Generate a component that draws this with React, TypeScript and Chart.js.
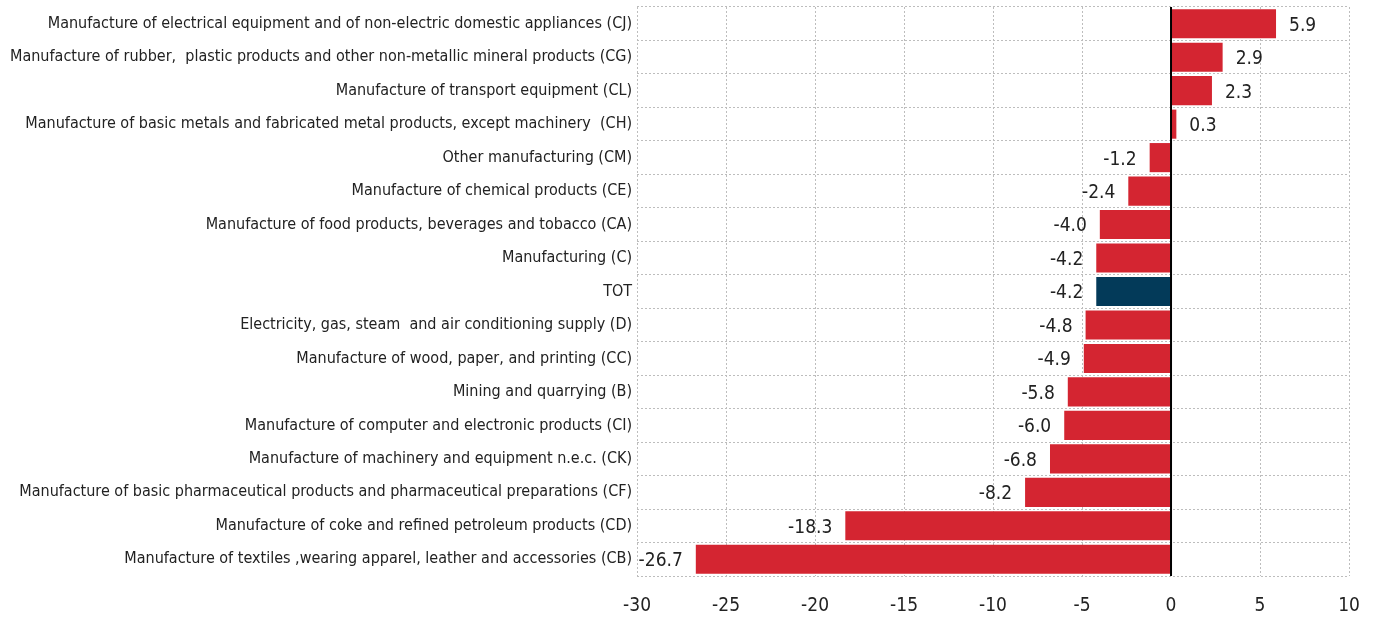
import React, { useEffect, useRef } from "react";
import { Chart, registerables } from "chart.js";

Chart.register(...registerables);

const categories = [
  "Manufacture of electrical equipment and of non-electric domestic appliances (CJ)",
  "Manufacture of rubber,  plastic products and other non-metallic mineral products (CG)",
  "Manufacture of transport equipment (CL)",
  "Manufacture of basic metals and fabricated metal products, except machinery  (CH)",
  "Other manufacturing (CM)",
  "Manufacture of chemical products (CE)",
  "Manufacture of food products, beverages and tobacco (CA)",
  "Manufacturing (C)",
  "TOT",
  "Electricity, gas, steam  and air conditioning supply (D)",
  "Manufacture of wood, paper, and printing (CC)",
  "Mining and quarrying (B)",
  "Manufacture of computer and electronic products (CI)",
  "Manufacture of machinery and equipment n.e.c. (CK)",
  "Manufacture of basic pharmaceutical products and pharmaceutical preparations (CF)",
  "Manufacture of coke and refined petroleum products (CD)",
  "Manufacture of textiles ,wearing apparel, leather and accessories (CB)",
];

const values = [5.9, 2.9, 2.3, 0.3, -1.2, -2.4, -4.0, -4.2, -4.2, -4.8, -4.9, -5.8, -6.0, -6.8, -8.2, -18.3, -26.7];

const highlightCategory = "TOT";
const xMin = -30;
const xMax = 10;
const xStep = 5;

const RED = "#D42531";
const BLUE = "#033A59";
const FONT = "'Liberation Sans Narrow', 'Arial Narrow', 'DejaVu Sans Condensed', sans-serif";

const labelPlugin = {
  id: "valueLabels",
  afterDatasetsDraw(chart: any) {
    const { ctx, chartArea, scales } = chart;
    const x0 = scales.x.getPixelForValue(0);
    ctx.save();
    ctx.strokeStyle = "#000";
    ctx.lineWidth = 2;
    ctx.beginPath();
    ctx.moveTo(x0, chartArea.top);
    ctx.lineTo(x0, chartArea.bottom);
    ctx.stroke();
    const meta = chart.getDatasetMeta(0);
    ctx.font = `19px ${FONT}`;
    ctx.fillStyle = "#222";
    ctx.textBaseline = "middle";
    meta.data.forEach((bar: any, i: number) => {
      const v = values[i];
      const txt = v.toFixed(1);
      if (v >= 0) {
        ctx.textAlign = "left";
        ctx.fillText(txt, bar.x + 13, bar.y + 2);
      } else {
        ctx.textAlign = "right";
        ctx.fillText(txt, bar.x - 13, bar.y + 2);
      }
    });
    ctx.restore();
  },
};

export default function App() {
  const ref = useRef<HTMLCanvasElement | null>(null);
  useEffect(() => {
    if (!ref.current) return;
    const chart = new Chart(ref.current, {
      type: "bar",
      data: {
        labels: categories,
        datasets: [
          {
            data: values,
            backgroundColor: categories.map((c) => (c === highlightCategory ? BLUE : RED)),
            borderWidth: 0,
            barPercentage: 0.87,
            categoryPercentage: 1,
          },
        ],
      },
      options: {
        indexAxis: "y",
        animation: false,
        responsive: false,
        maintainAspectRatio: false,
        layout: { padding: { top: 7, right: 27, bottom: 0, left: 5 } },
        plugins: { legend: { display: false }, tooltip: { enabled: false } },
        scales: {
          x: {
            min: xMin,
            max: xMax,
            ticks: { stepSize: xStep, color: "#222", font: { family: FONT, size: 19 }, padding: 19 },
            grid: { color: "#bdbdbd", lineWidth: 1, drawTicks: false },
            border: { display: false, dash: [2, 2] },
            afterFit: (scale: any) => {
              scale.height = 43;
              scale.paddingLeft = 0;
              scale.paddingRight = 0;
            },
          },
          y: {
            ticks: { color: "#222", font: { family: FONT, size: 16 }, padding: 5, autoSkip: false },
            grid: { color: "#bdbdbd", lineWidth: 1, drawTicks: false, offset: true },
            border: { display: false, dash: [2, 2] },
            afterFit: (scale: any) => {
              scale.paddingTop = 0;
              scale.paddingBottom = 0;
            },
          },
        },
      },
      plugins: [labelPlugin],
    });
    return () => chart.destroy();
  }, []);
  return (
    <div style={{ position: "absolute", left: 0, top: 0, width: 1376, height: 619, background: "#fff" }}>
      <canvas ref={ref} width={1376} height={619} />
    </div>
  );
}
